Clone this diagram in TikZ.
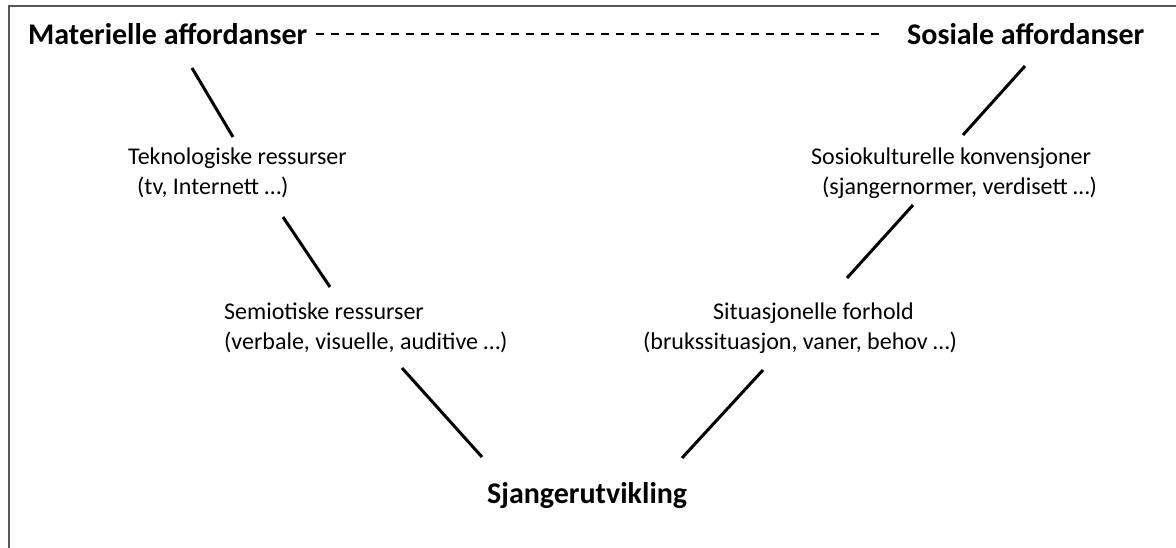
\documentclass[tikz,border=0pt]{standalone}
\usepackage{fontspec}
\setmainfont{Carlito}
\begin{document}
\begin{tikzpicture}[x=1pt,y=-1pt,
  title/.style={font=\fontsize{30}{36}\selectfont\bfseries, inner sep=0pt, anchor=base west},
  lbl/.style={font=\fontsize{24}{30}\selectfont, inner sep=0pt, anchor=base west, align=left},
  conn/.style={line width=3pt},
  frame/.style={line width=2pt, draw=black!65}]
\useasboundingbox (0,0) rectangle (1176,548);
\draw[frame] (9,548) -- (9,6.5) -- (1176,6.5);
\node[title] (mat) at (28,45) {Materielle affordanser};
\node[title] (sos) at (907,45) {Sosiale affordanser};
\node[title] (sja) at (487,503) {Sjangerutvikling};
\node[lbl] (tek) at (128,195) {Teknologiske ressurser\\\hspace*{9pt}(tv, Internett …)};
\node[lbl] (sem) at (224,349) {Semiotiske ressurser\\(verbale, visuelle, auditive …)};
\node[lbl] (sok) at (811,195) {Sosiokulturelle konvensjoner\\\hspace*{11pt}(sjangernormer, verdisett …)};
\node[lbl] (sit) at (643,349) {\hspace*{70pt}Situasjonelle forhold\\(brukssituasjon, vaner, behov …)};
\coordinate (d1) at (316,34);
\coordinate (d2) at (880,34);
\draw[line width=2.4pt, dash pattern=on 8pt off 7pt] (d1) -- (d2);
\coordinate (a1) at (192,68);  \coordinate (a2) at (233,137);
\coordinate (b1) at (283,217); \coordinate (b2) at (330,287);
\coordinate (c1) at (402,368); \coordinate (c2) at (482,457);
\coordinate (e1) at (1025,66); \coordinate (e2) at (963,135);
\coordinate (f1) at (913,205); \coordinate (f2) at (847,278);
\coordinate (g1) at (763,370); \coordinate (g2) at (682,458);
\draw[conn] (a1) -- (a2);
\draw[conn] (b1) -- (b2);
\draw[conn] (c1) -- (c2);
\draw[conn] (e1) -- (e2);
\draw[conn] (f1) -- (f2);
\draw[conn] (g1) -- (g2);
\end{tikzpicture}
\end{document}
